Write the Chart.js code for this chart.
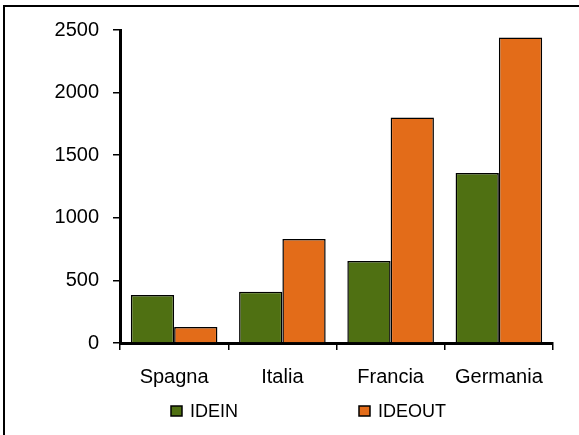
<!DOCTYPE html>
<html>
<head>
<meta charset="utf-8">
<script src="https://cdn.jsdelivr.net/npm/chart.js@4.4.1/dist/chart.umd.min.js"></script>
<style>
  html, body { margin: 0; padding: 0; background: #fff; }
  #wrap { position: relative; width: 579px; height: 435px; overflow: hidden; }
  #frame { position: absolute; left: 3px; top: 5px; width: 600px; height: 500px;
           border-top: 2px solid #000; border-left: 2px solid #000; pointer-events: none; }
  canvas { position: absolute; left: 0; top: 0; }
</style>
</head>
<body>
<div id="wrap">
  <canvas id="chart" width="579" height="435"></canvas>
  <div id="frame"></div>
</div>
<script>
// chart data
const countries = ["Spagna", "Italia", "Francia", "Germania"];
const ideIn  = [383, 410, 655, 1358];
const ideOut = [128, 830, 1802, 2440];
const yTicks = [0, 500, 1000, 1500, 2000, 2500];

const GREEN = "#4f7012";
const ORANGE = "#e36c19";
const FONT = "'Liberation Sans', Arial, sans-serif";

// legend drawn by hand so the two items can sit far apart like the original
const bottomLegend = {
  id: "bottomLegend",
  afterDraw(chart) {
    const c = chart.ctx;
    const spots = [171, 359];
    c.save();
    c.font = "18px " + FONT;
    c.textBaseline = "middle";
    c.textAlign = "left";
    chart.data.datasets.forEach((ds, i) => {
      const x = spots[i], y = 411;
      c.fillStyle = ds.backgroundColor;
      c.fillRect(x, y - 5, 11, 10);
      c.lineWidth = 1.5;
      c.strokeStyle = "#000";
      c.strokeRect(x, y - 5, 11, 10);
      c.fillStyle = "#000";
      c.fillText(ds.label, x + 19, y + 1);
    });
    c.restore();
  }
};

new Chart(document.getElementById("chart"), {
  type: "bar",
  data: {
    labels: countries,
    datasets: [
      { label: "IDEIN", data: ideIn, backgroundColor: GREEN, borderColor: "#000", borderWidth: 1.5 },
      { label: "IDEOUT", data: ideOut, backgroundColor: ORANGE, borderColor: "#000", borderWidth: 1.5 }
    ]
  },
  options: {
    responsive: false,
    animation: false,
    layout: { padding: { left: 8, right: 26, top: 30, bottom: 42 } },
    plugins: { legend: { display: false }, tooltip: { enabled: false } },
    datasets: { bar: { categoryPercentage: 0.8, barPercentage: 1.0 } },
    scales: {
      x: {
        afterFit: s => { s.height = 50; },
        border: { color: "#000", width: 3 },
        grid: { offset: true, drawOnChartArea: false, drawTicks: true, tickLength: 7, color: "#000", lineWidth: 1.5 },
        ticks: { color: "#000", padding: 15, font: { family: FONT, size: 20 } }
      },
      y: {
        min: 0, max: 2500,
        afterFit: s => { s.width = 112; },
        afterBuildTicks: s => { s.ticks = yTicks.map(v => ({ value: v })); },
        border: { color: "#000", width: 3 },
        grid: { drawOnChartArea: false, drawTicks: true, tickLength: 7, color: "#000", lineWidth: 1.5 },
        ticks: { color: "#000", padding: 14, font: { family: FONT, size: 20 }, callback: v => String(v) }
      }
    }
  },
  plugins: [bottomLegend]
});
</script>
</body>
</html>
